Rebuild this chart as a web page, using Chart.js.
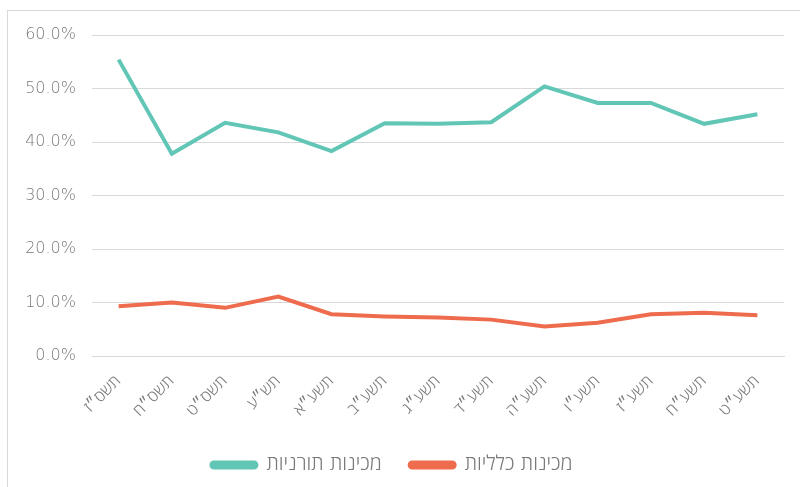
<!DOCTYPE html>
<html lang="he">
<head>
<meta charset="utf-8">
<script src="https://cdn.jsdelivr.net/npm/chart.js@4.4.1/dist/chart.umd.min.js"></script>
<style>
  html, body { margin: 0; padding: 0; background: #fff; overflow: hidden; }
  #wrap { position: relative; width: 800px; height: 487px; }
  #frame { position: absolute; left: 7px; top: 10px; width: 820px; height: 500px; border: 1px solid #d9d9d9; box-sizing: border-box; }
  #myChart { position: absolute; left: 0; top: 0; }
</style>
</head>
<body>
<div id="wrap">
  <div id="frame"></div>
  <canvas id="myChart" width="800" height="487"></canvas>
</div>
<script>
// ------------- data ----------------
const years = [
  "תשס״ז", "תשס״ח", "תשס״ט", "תש״ע", "תשע״א", "תשע״ב", "תשע״ג",
  "תשע״ד", "תשע״ה", "תשע״ו", "תשע״ז", "תשע״ח", "תשע״ט",
];
const torani = [55.4, 37.8, 43.6, 41.8, 38.3, 43.5, 43.4, 43.7, 50.4, 47.3, 47.3, 43.4, 45.2];
const klali = [9.3, 10.0, 9.0, 11.1, 7.8, 7.4, 7.2, 6.8, 5.5, 6.2, 7.8, 8.1, 7.6];
const yTicks = [0, 10, 20, 30, 40, 50, 60];

const font = "'DejaVu Sans', 'Open Sans', sans-serif";

// ------------- Chart.js implementation ----------------
document.addEventListener("DOMContentLoaded", () => {
  const ctx = document.getElementById("myChart");
  new Chart(ctx, {
    type: "line",
    data: {
      labels: years,
      datasets: [
        {
          label: "מכינות תורניות",
          data: torani,
          borderColor: "#62C6B6",
          backgroundColor: "#62C6B6",
          borderWidth: 4,
          pointRadius: 0,
          tension: 0,
        },
        {
          label: "מכינות כלליות",
          data: klali,
          borderColor: "#EE6C4D",
          backgroundColor: "#EE6C4D",
          borderWidth: 4,
          pointRadius: 0,
          tension: 0,
        },
      ],
    },
    options: {
      responsive: false,
      animation: false,
      layout: { padding: { top: 35, right: 16, bottom: 2, left: 0 } },
      plugins: {
        tooltip: { enabled: false },
        legend: {
          position: "bottom",
          labels: {
            color: "#7a7a7a",
            font: { family: font, size: 20, weight: 300 },
            boxWidth: 45,
            boxHeight: 5,
            useBorderRadius: true,
            borderRadius: 2.5,
            padding: 28,
          },
        },
      },
      scales: {
        x: {
          offset: true,
          grid: { display: false },
          border: { display: true, color: "#d9d9d9" },
          ticks: {
            color: "#7a7a7a",
            font: { family: font, size: 16, weight: 300 },
            maxRotation: 45,
            minRotation: 45,
            padding: 8,
          },
          afterFit: (scale) => { scale.height = 71; },
        },
        y: {
          min: 0,
          max: 60,
          afterBuildTicks: (scale) => { scale.ticks = yTicks.map((v) => ({ value: v })); },
          grid: { color: "#d9d9d9", drawTicks: false },
          border: { display: false },
          ticks: {
            color: "#7a7a7a",
            font: { family: font, size: 16, weight: 300 },
            padding: 16,
            callback: (v) => v.toFixed(1) + "%",
          },
          afterFit: (scale) => { scale.width = 92; },
        },
      },
    },
  });
});
</script>
</body>
</html>
